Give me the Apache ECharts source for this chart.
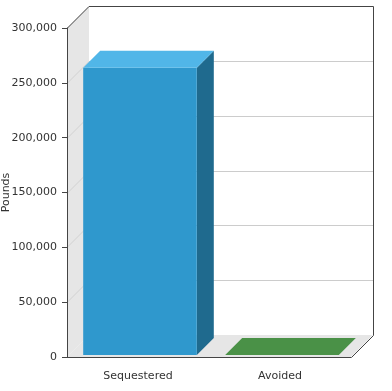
<!DOCTYPE html>
<html><head><meta charset="utf-8">
<script src="https://cdn.jsdelivr.net/npm/echarts@6/dist/echarts.min.js"></script>
<style>html,body{margin:0;padding:0;background:#fff;}#c{width:392px;height:391px;}</style>
</head><body><div id="c"></div>
<script>
const categories = ['Sequestered', 'Avoided'];
const values = [262000, 0];
const yTicks = [0, 50000, 100000, 150000, 200000, 250000, 300000];
const yName = 'Pounds';

const DEPTH = 22, BAR_OFF = 2, BAR_DEPTH = 17;
const barColors = [
  {front: '#2f98cd', top: '#51b6e8', side: '#1f6a8e'},
  {front: '#4a9147', top: '#4a9147', side: '#2f6a2e'}
];
const font = 'DejaVu Sans';

const chart = echarts.init(document.getElementById('c'), null, {renderer: 'canvas'});
const yMax = yTicks[yTicks.length - 1];
const yStep = yTicks[1] - yTicks[0];

chart.setOption({
  animation: false,
  grid: {left: 67, right: 41, top: 28, bottom: 34, containLabel: false, outerBoundsMode: 'none'},
  xAxis: {
    type: 'category', data: categories, z: 10,
    axisLine: {lineStyle: {color: '#444', width: 1}},
    axisTick: {alignWithLabel: true, length: 5, lineStyle: {color: '#444'}},
    axisLabel: {color: '#333', fontFamily: font, fontSize: 11, margin: 14},
    splitLine: {show: false}
  },
  yAxis: {
    type: 'value', min: yTicks[0], max: yMax, interval: yStep, z: 10,
    name: yName, nameLocation: 'middle', nameRotate: 90, nameGap: 55, nameMoveOverlap: false,
    nameTextStyle: {color: '#333', fontFamily: font, fontSize: 11},
    axisLine: {show: true, lineStyle: {color: '#444', width: 1}},
    axisTick: {show: true, length: 5, lineStyle: {color: '#444'}},
    axisLabel: {color: '#333', fontFamily: font, fontSize: 11, margin: 10,
      formatter: v => v.toLocaleString('en-US')},
    splitLine: {show: false}
  },
  series: [
    {
      type: 'custom', z: 1, silent: true,
      data: [[0, 0]],
      renderItem: function (params, api) {
        const cs = params.coordSys;
        const x0 = cs.x, x1 = cs.x + cs.width;
        const yB = api.coord([0, yTicks[0]])[1];
        const yT = api.coord([0, yMax])[1];
        const D = DEPTH;
        const ch = [];
        ch.push({type: 'polygon', shape: {points: [[x0, yT], [x0 + D, yT - D], [x0 + D, yB - D], [x0, yB]]},
          style: {fill: '#e6e6e6'}});
        ch.push({type: 'polygon', shape: {points: [[x0, yB], [x1, yB], [x1 + D, yB - D], [x0 + D, yB - D]]},
          style: {fill: '#e6e6e6'}});
        ch.push({type: 'rect', shape: {x: x0 + D, y: yT - D, width: x1 - x0, height: yB - yT},
          style: {fill: '#ffffff'}});
        yTicks.forEach(function (v) {
          if (v <= yTicks[0] || v >= yMax) return;
          const y = Math.round(api.coord([0, v])[1]) + 0.5;
          ch.push({type: 'line', shape: {x1: x0 + D, y1: y - D, x2: x1 + D, y2: y - D},
            style: {stroke: '#cccccc', lineWidth: 1}});
          ch.push({type: 'line', shape: {x1: x0, y1: y, x2: x0 + D, y2: y - D},
            style: {stroke: '#d2d2d2', lineWidth: 1}});
        });
        const yt = Math.round(yT) + 0.5, yb = Math.round(yB) + 0.5;
        const xr = Math.round(x1) + 0.5;
        ch.push({type: 'polyline', shape: {points: [[x0, yt], [x0 + D, yt - D], [xr + D, yt - D], [xr + D, yb - D], [xr, yb]]},
          style: {stroke: '#444', lineWidth: 1, fill: null}});
        return {type: 'group', children: ch};
      }
    },
    {
      type: 'custom', z: 3, silent: true,
      data: values.map((v, i) => [i, v]),
      encode: {x: 0, y: 1},
      renderItem: function (params, api) {
        const i = api.value(0), v = api.value(1);
        const c0 = api.coord([i, 0]);
        const c1 = api.coord([i, v]);
        const w = api.size([1, 0])[0] * 0.8;
        const o = BAR_OFF, d = BAR_DEPTH;
        const xl = c0[0] - w / 2 + o, xr = c0[0] + w / 2 + o;
        const yb = c0[1] - o, yt = c1[1] - o;
        const col = barColors[i % barColors.length];
        const ch = [];
        ch.push({type: 'polygon', shape: {points: [[xr, yt], [xr + d, yt - d], [xr + d, yb - d], [xr, yb]]},
          style: {fill: col.side}});
        ch.push({type: 'rect', shape: {x: xl, y: yt, width: xr - xl, height: yb - yt},
          style: {fill: col.front}});
        ch.push({type: 'polygon', shape: {points: [[xl, yt], [xr, yt], [xr + d, yt - d], [xl + d, yt - d]]},
          style: {fill: col.top}});
        return {type: 'group', children: ch};
      }
    }
  ]
});
</script>
</body></html>
